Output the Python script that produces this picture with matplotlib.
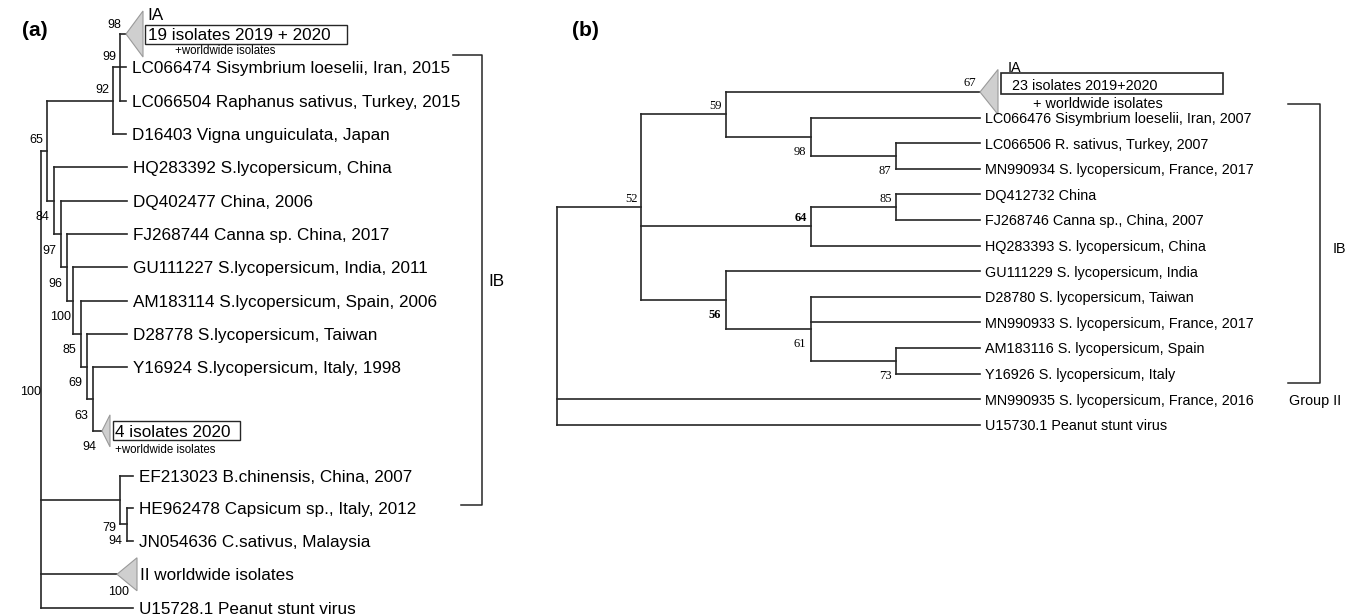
import matplotlib
matplotlib.use('Agg')
import matplotlib.pyplot as plt
from matplotlib.patches import Polygon, Rectangle

# ---------------- Panel (a) data ----------------
a_node_ids = ['root', 'n65', 'nA', 'nB', 'n54', 'n61', 'n67', 'n73', 'n81', 'n87', 'n93', 'nEF', 'nHE']
a_node_parent = [None, 'root', 'n65', 'nA', 'n65', 'n54', 'n61', 'n67', 'n73', 'n81', 'n87', 'root', 'nEF']
a_node_depth = [0, 6, 72, 79, 13, 20, 26, 32, 40, 46, 52, 79, 86]
a_node_support = ['100', '65', '92', '99', '84', '97', '96', '100', '85', '69', '63', '79', '94']
a_node_side = ['root', 'above', 'above', 'above', 'below', 'below', 'below', 'below',
               'below', 'below', 'below', 'low', 'below']

a_leaf_labels = ['19 isolates 2019 + 2020',
                 'LC066474 Sisymbrium loeselii, Iran, 2015',
                 'LC066504 Raphanus sativus, Turkey, 2015',
                 'D16403 Vigna unguiculata, Japan',
                 'HQ283392 S.lycopersicum, China',
                 'DQ402477 China, 2006',
                 'FJ268744 Canna sp. China, 2017',
                 'GU111227 S.lycopersicum, India, 2011',
                 'AM183114 S.lycopersicum, Spain, 2006',
                 'D28778 S.lycopersicum, Taiwan',
                 'Y16924 S.lycopersicum, Italy, 1998',
                 '4 isolates 2020',
                 'EF213023 B.chinensis, China, 2007',
                 'HE962478 Capsicum sp., Italy, 2012',
                 'JN054636 C.sativus, Malaysia',
                 'II worldwide isolates',
                 'U15728.1 Peanut stunt virus']
a_leaf_parent = ['nB', 'nB', 'nB', 'nA', 'n54', 'n61', 'n67', 'n73', 'n81', 'n87', 'n93', 'n93',
                 'nEF', 'nHE', 'nHE', 'root', 'root']
a_leaf_depth = [85, 85, 85, 85, 86, 86, 86, 86, 86, 86, 86, 61, 92, 92, 92, 76, 92]
a_leaf_rows = [0, 1, 2, 3, 4, 5, 6, 7, 8, 9, 10, 11.9, 13.25, 14.2, 15.2, 16.2, 17.2]
a_leaf_support = ['98', '', '', '', '', '', '', '', '', '', '', '94', '', '', '', '100', '']

# ---------------- Panel (b) data ----------------
b_node_ids = ['root', 'n52', 'n59', 'n98', 'n87', 'n64', 'n85', 'n56', 'n61', 'n73']
b_node_parent = [None, 'root', 'n52', 'n59', 'n98', 'n52', 'n64', 'n52', 'n56', 'n61']
b_node_depth = [0, 84, 169, 254, 339, 254, 339, 169, 254, 339]
b_node_support = ['', '52', '59', '98', '87', '64', '85', '56', '61', '73']
b_node_side = ['', 'above', 'above', 'below', 'below', 'above', 'above', 'below', 'below', 'below']
b_node_bold = ['64', '56']

b_leaf_labels = ['23 isolates 2019+2020',
                 'LC066476 Sisymbrium loeselii, Iran, 2007',
                 'LC066506 R. sativus, Turkey, 2007',
                 'MN990934 S. lycopersicum, France, 2017',
                 'DQ412732 China',
                 'FJ268746 Canna sp., China, 2007',
                 'HQ283393 S. lycopersicum, China',
                 'GU111229 S. lycopersicum, India',
                 'D28780 S. lycopersicum, Taiwan',
                 'MN990933 S. lycopersicum, France, 2017',
                 'AM183116 S. lycopersicum, Spain',
                 'Y16926 S. lycopersicum, Italy',
                 'MN990935 S. lycopersicum, France, 2016',
                 'U15730.1 Peanut stunt virus']
b_leaf_parent = ['n59', 'n98', 'n87', 'n87', 'n85', 'n85', 'n64', 'n56', 'n61', 'n61', 'n73', 'n73',
                 'root', 'root']
b_leaf_depth = [423] * 14
b_leaf_rows = list(range(14))
b_leaf_support = ['67'] + [''] * 13

# ---------------- figure ----------------
W, H, DPI = 1356, 616, 100
SANS = ['Liberation Sans', 'DejaVu Sans']
SERIF = ['Liberation Serif', 'DejaVu Serif']
LINE = '#262626'
TRI_FACE = '#cfcfcf'
TRI_EDGE = '#9a9a9a'

fig = plt.figure(figsize=(W / DPI, H / DPI), dpi=DPI)
fig.patch.set_facecolor('white')

A_ROW = 33.35   # pixels per row, panel a
B_ROW = 25.6    # pixels per row, panel b


def make_axes(root_x, first_y, row_px):
    ax = fig.add_axes([0, 0, 1, 1])
    ax.set_xlim(-root_x, W - root_x)
    ax.set_ylim((H - first_y) / row_px, -first_y / row_px)
    ax.axis('off')
    ax.patch.set_alpha(0)
    return ax


def layout_and_draw(ax, node_ids, node_parent, node_depth, leaf_labels, leaf_parent,
                    leaf_depth, leaf_rows, lw):
    xpos, ypos = {}, {}
    children = {n: [] for n in node_ids}
    for n, d in zip(node_ids, node_depth):
        xpos[n] = d
    for n, p in zip(node_ids, node_parent):
        if p is not None:
            children[p].append(n)
    for l, p, d, r in zip(leaf_labels, leaf_parent, leaf_depth, leaf_rows):
        xpos[l] = d
        ypos[l] = r
        children[p].append(l)

    def y_of(n):
        if n not in ypos:
            ys = [y_of(c) for c in children[n]]
            ypos[n] = (min(ys) + max(ys)) / 2
        return ypos[n]

    for n in node_ids:
        y_of(n)
    for n in node_ids:
        ys = [ypos[c] for c in children[n]]
        ax.plot([xpos[n], xpos[n]], [min(ys), max(ys)], color=LINE, lw=lw,
                solid_capstyle='projecting')
        for c in children[n]:
            ax.plot([xpos[n], xpos[c]], [ypos[c], ypos[c]], color=LINE, lw=lw,
                    solid_capstyle='projecting')
    return xpos, ypos


def triangle(ax, x, y, w, h_px, row_px):
    h = h_px / row_px
    ax.add_patch(Polygon([(x, y), (x + w, y - h), (x + w, y + h)], closed=True,
                         facecolor=TRI_FACE, edgecolor=TRI_EDGE, lw=0.8, zorder=3))


def box(ax, x, y, dx, width, dy, height, row_px, lw):
    ax.add_patch(Rectangle((x + dx, y + (dy - height / 2) / row_px), width, height / row_px,
                           facecolor='none', edgecolor=LINE, lw=lw, zorder=3))


def txt(ax, x, y, s, dx, dy, size, ha='left', family=SANS, weight='normal'):
    ax.annotate(s, (x, y), xytext=(dx, -dy), textcoords='offset pixels', ha=ha,
                va='center_baseline', fontsize=size, family=family, weight=weight)


# ---------------- Panel (a) ----------------
axa = make_axes(41, 34, A_ROW)
xa, ya = layout_and_draw(axa, a_node_ids, a_node_parent, a_node_depth, a_leaf_labels,
                         a_leaf_parent, a_leaf_depth, a_leaf_rows, lw=1.2)

A_LEAF = 12.3
A_SUP = 9
side_off_a = {'above': (-11, -12), 'below': (-12, 15), 'low': (-11, 26), 'root': (-10, 11)}
for n, s, side in zip(a_node_ids, a_node_support, a_node_side):
    dx, dy = side_off_a[side]
    txt(axa, xa[n], ya[n], s, dx, dy, A_SUP, ha='center')

for i, lab in enumerate(a_leaf_labels):
    x, y = xa[lab], ya[lab]
    if i == 0:      # IA collapsed clade
        triangle(axa, x, y, 17, 23, A_ROW)
        box(axa, x, y, 19, 202, 0, 19, A_ROW, 1.0)
        txt(axa, x, y, lab, 22, 0, A_LEAF)
        txt(axa, x, y, 'IA', 21, -20, A_LEAF)
        txt(axa, x, y, '+worldwide isolates', 49, 15, 8.3)
        txt(axa, x, y, a_leaf_support[i], -12, -10, A_SUP, ha='center')
    elif i == 11:   # 4 isolates collapsed clade
        triangle(axa, x, y, 8, 16, A_ROW)
        box(axa, x, y, 11, 127, 0, 19, A_ROW, 1.0)
        txt(axa, x, y, lab, 13, 0, A_LEAF)
        txt(axa, x, y, '+worldwide isolates', 13, 18, 8.3)
        txt(axa, x, y, a_leaf_support[i], -13, 15, A_SUP, ha='center')
    elif i == 15:   # group II collapsed clade
        triangle(axa, x, y, 20, 16.5, A_ROW)
        txt(axa, x, y, lab, 23, 0, A_LEAF)
        txt(axa, x, y, a_leaf_support[i], 2, 16, A_SUP, ha='center')
    else:
        txt(axa, x, y, lab, 6, 0, A_LEAF)

# IB bracket (a)
a_br_top, a_br_bot = 0.63, 14.12
axa.plot([412, 441, 441, 420], [a_br_top, a_br_top, a_br_bot, a_br_bot], color=LINE, lw=1.1)
txt(axa, 441, (a_br_top + a_br_bot) / 2, 'IB', 6, 0, A_LEAF)

# ---------------- Panel (b) ----------------
axb = make_axes(557, 92, B_ROW)
xb, yb = layout_and_draw(axb, b_node_ids, b_node_parent, b_node_depth, b_leaf_labels,
                         b_leaf_parent, b_leaf_depth, b_leaf_rows, lw=1.2)
B_LEAF = 10.4
B_SUP = 9
side_off_b = {'above': (-10, -10), 'below': (-11, 14)}
for n, s, side in zip(b_node_ids, b_node_support, b_node_side):
    if s:
        dx, dy = side_off_b[side]
        txt(axb, xb[n], yb[n], s, dx, dy, B_SUP, ha='center', family=SERIF,
            weight='bold' if s in b_node_bold else 'normal')

for i, lab in enumerate(b_leaf_labels):
    x, y = xb[lab], yb[lab]
    if i == 0:
        triangle(axb, x, y, 18, 22.5, B_ROW)
        box(axb, x, y, 21, 222, -8.5, 21, B_ROW, 1.2)
        txt(axb, x, y, lab, 32, -8, B_LEAF)
        txt(axb, x, y, 'IA', 28, -26, B_LEAF)
        txt(axb, x, y, '+ worldwide isolates', 53, 11, B_LEAF)
        txt(axb, x, y, b_leaf_support[i], -10, -10, B_SUP, ha='center', family=SERIF)
    else:
        txt(axb, x, y, lab, 5, 0, B_LEAF)

# IB bracket + Group II (b)
b_br_top, b_br_bot = 0.47, 11.37
axb.plot([731, 763, 763, 731], [b_br_top, b_br_top, b_br_bot, b_br_bot], color=LINE, lw=1.1)
txt(axb, 763, (b_br_top + b_br_bot) / 2, 'IB', 13, 4, B_LEAF)
txt(axb, 732, 12, 'Group II', 0, 0, B_LEAF)

# panel letters
fig.text(22 / W, 1 - 30 / H, '(a)', fontsize=15, weight='bold', family=SANS, va='center')
fig.text(572 / W, 1 - 30 / H, '(b)', fontsize=15, weight='bold', family=SANS, va='center')

fig.savefig('out.png', dpi=DPI, facecolor='white')
